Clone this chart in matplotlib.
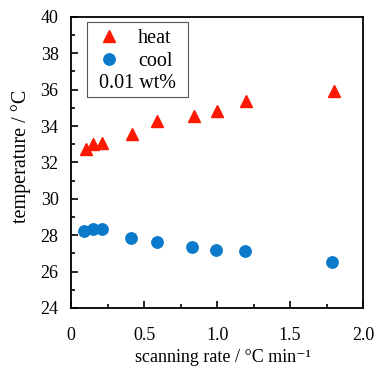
import numpy as np
import matplotlib.pyplot as plt
from matplotlib.patches import Rectangle

plt.rcParams['font.family'] = ['Liberation Serif', 'DejaVu Serif']

# scanning rate (°C/min) and transition temperatures (°C)
heat_rate = [0.10, 0.15, 0.21, 0.42, 0.59, 0.84, 1.00, 1.20, 1.80]
heat_temp = [32.75, 33.0, 33.05, 33.55, 34.3, 34.55, 34.85, 35.35, 35.95]
cool_rate = [0.09, 0.15, 0.21, 0.41, 0.59, 0.83, 0.99, 1.19, 1.79]
cool_temp = [28.25, 28.32, 28.36, 27.83, 27.62, 27.33, 27.16, 27.13, 26.52]

xticks = [0, 0.5, 1.0, 1.5, 2.0]
xticklabels = ['0', '0.5', '1.0', '1.5', '2.0']
yticks = [24, 26, 28, 30, 32, 34, 36, 38, 40]

fs = 13

fig = plt.figure(figsize=(3.74, 3.67), dpi=100)
ax = fig.add_axes([0.190, 0.161, 0.781, 0.793])

h, = ax.plot(heat_rate, heat_temp, linestyle='none', marker='^', ms=8.2,
             color='#ff1800', label='heat')
c, = ax.plot(cool_rate, cool_temp, linestyle='none', marker='o', ms=8.2,
             color='#0b7acb', label='cool')

ax.set_xlim(0, 2.0)
ax.set_ylim(24, 40)
ax.set_xticks(xticks)
ax.set_xticklabels(xticklabels)
ax.set_xticks(np.arange(0.25, 2.0, 0.5), minor=True)
ax.set_yticks(yticks)
ax.set_yticklabels([str(v) for v in yticks])
ax.set_yticks(np.arange(25, 40, 2), minor=True)
ax.tick_params(which='both', direction='in', labelsize=fs, width=1.2)
ax.tick_params(which='major', length=5)
ax.tick_params(which='minor', length=3)
ax.tick_params(axis='y', pad=9)
ax.tick_params(axis='x', pad=14)
for s in ax.spines.values():
    s.set_linewidth(1.3)

ax.set_xlabel('scanning rate / °C min⁻¹', fontsize=fs)
ax.set_ylabel('temperature / °C', fontsize=14.5)
ax.xaxis.label.set_va('baseline')
ax.yaxis.label.set_va('baseline')
ax.xaxis.set_label_coords(0.52, -0.186)
ax.yaxis.set_label_coords(-0.154, 0.522)

leg = ax.legend(handles=[h, c], loc='upper left', bbox_to_anchor=(0.075, 0.981),
                frameon=False, fontsize=14.5, handletextpad=0.94,
                handlelength=1.0, labelspacing=0.21, borderpad=0.3,
                borderaxespad=0)
ax.add_patch(Rectangle((0.054, 0.725), 0.346, 0.257, transform=ax.transAxes,
                       fill=False, edgecolor='#555555', linewidth=0.8))
ax.text(0.229, 0.770, '0.01 wt%', transform=ax.transAxes, fontsize=14.5,
        ha='center', va='center')

fig.savefig('out.png', dpi=100)
